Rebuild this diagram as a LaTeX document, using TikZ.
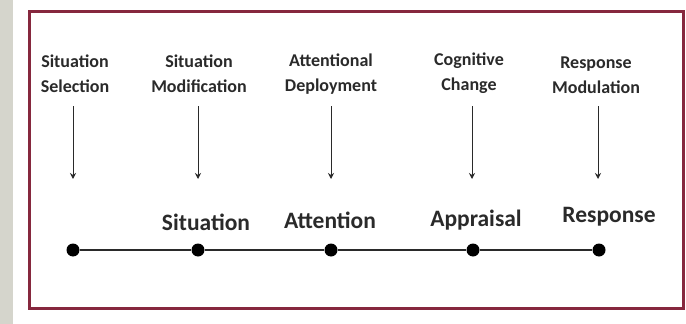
\documentclass[tikz,border=0pt]{standalone}
\usepackage{fontspec}
\setmainfont{Carlito}
\usetikzlibrary{arrows.meta}
\definecolor{framered}{HTML}{86283E}
\definecolor{stripgrey}{HTML}{D5D5CC}
\definecolor{inkgrey}{HTML}{2A2A2A}
\begin{document}
\begin{tikzpicture}[x=1pt,y=-1pt,
  toplabel/.style={font=\fontsize{18}{25}\selectfont\bfseries, align=center, text=inkgrey, inner sep=0pt},
  biglabel/.style={font=\fontsize{23.5}{28}\selectfont\bfseries, text=inkgrey, inner sep=0pt},
  dotnode/.style={circle, fill=black, minimum size=13pt, inner sep=0pt},
  downarrow/.style={draw=inkgrey, line width=1pt, -{Stealth[length=6pt,width=6pt]}},
  timeline/.style={draw=inkgrey, line width=2pt}]
\useasboundingbox (0,0) rectangle (686,324);
\fill[white] (0,0) rectangle (686,324);
\fill[stripgrey] (0,0) rectangle (12.5,324);
\draw[framered, line width=3pt] (29,11) rectangle (683,308);

% top labels
\node[toplabel] (l1) at (75,74) {Situation\\Selection};
\node[toplabel] (l2) at (199,74) {Situation\\Modification};
\node[toplabel] (l3) at (331,74) {Attentional\\Deployment};
\node[toplabel] (l4) at (469,73) {Cognitive\\Change};
\node[toplabel] (l5) at (596,75) {Response\\Modulation};

% arrow anchor points
\coordinate (a1s) at (73,106); \coordinate (a1e) at (73,179);
\coordinate (a2s) at (198,106); \coordinate (a2e) at (198,179);
\coordinate (a3s) at (331,106); \coordinate (a3e) at (331,179);
\coordinate (a4s) at (472,106); \coordinate (a4e) at (472,179);
\coordinate (a5s) at (598,106); \coordinate (a5e) at (598,179);
\foreach \i in {1,...,5} \draw[downarrow] (a\i s) -- (a\i e);

% big labels
\node[biglabel] (b2) at (206,222) {Situation};
\node[biglabel] (b3) at (330,220) {Attention};
\node[biglabel] (b4) at (476,220) {Appraisal};
\node[biglabel] (b5) at (609,217) {Response};

% timeline
\node[dotnode] (d1) at (73,250) {};
\node[dotnode] (d2) at (198,250) {};
\node[dotnode] (d3) at (331,250) {};
\node[dotnode] (d4) at (473,250) {};
\node[dotnode] (d5) at (599,250) {};
\draw[timeline] (d1) -- (d2) -- (d3) -- (d4) -- (d5);
\end{tikzpicture}
\end{document}
